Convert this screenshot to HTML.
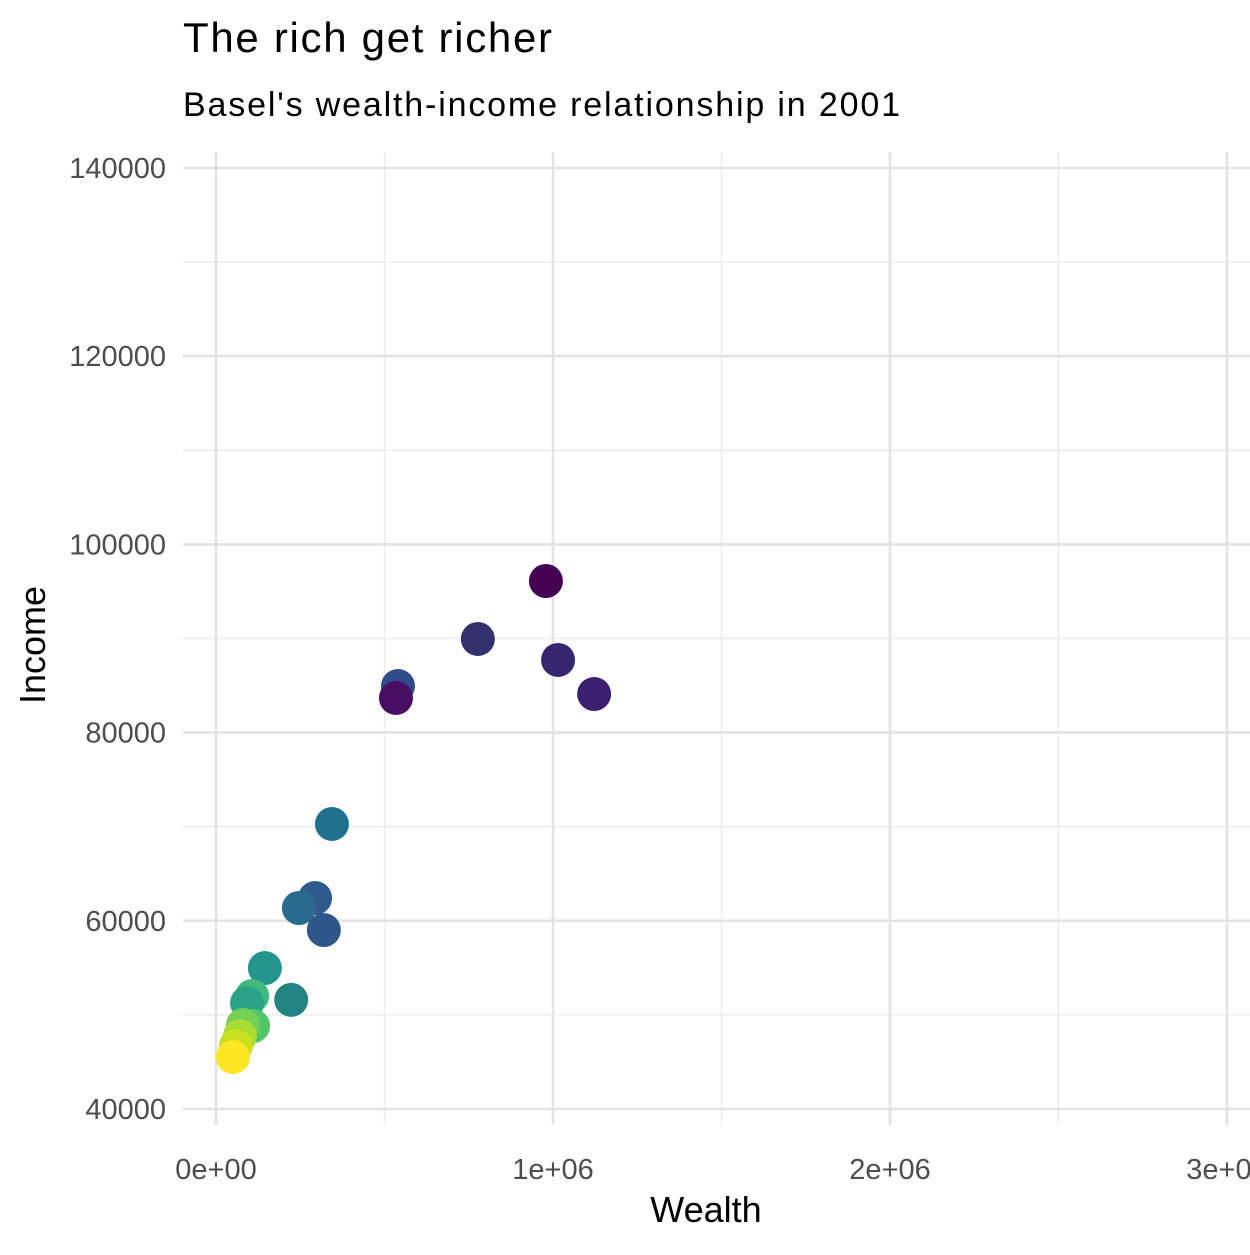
<!DOCTYPE html>
<html><head><meta charset="utf-8"><style>
body{margin:0;background:#fff;}
svg text{font-family:"Liberation Sans",Arial,sans-serif;}
</style></head><body>
<svg id="chart" width="1250" height="1250" xmlns="http://www.w3.org/2000/svg">
<rect width="1250" height="1250" fill="#fff"/>
<text x="183" y="52" font-size="42" textLength="369" fill="#000">The rich get richer</text>
<text x="183" y="116" font-size="34" textLength="717" fill="#000">Basel's wealth-income relationship in 2001</text>
<g id="grid"></g>
<g id="points"></g>
<g id="axes"></g>
<text x="706" y="1222" font-size="36" text-anchor="middle" fill="#000">Wealth</text>
<text transform="translate(45,645) rotate(-90)" font-size="36" text-anchor="middle" fill="#000">Income</text>
</svg>
<script>
const wealth=[979000,777000,1015000,1122000,540000,534000,344000,294000,246000,320000,145000,223000,107000,92000,110000,80000,71000,59000,50000];
const income=[96110,89950,87720,84100,84950,83680,70290,62420,61360,59020,54980,51600,52010,51270,48820,48930,47760,46700,45530];
const colors=["#440154","#33306e","#35266f","#3b2072","#2f4b8a","#470e61","#21718e","#2e5b8c","#2a6a8e","#2f568b","#23958b","#218482","#40b97a","#2aa486","#53c46a","#73d055","#a6dc33","#c8e020","#fde725"];
const xTicks=[0,1e6,2e6,3e6];
const xTickLabels=["0e+00","1e+06","2e+06","3e+06"];
const yTicks=[40000,60000,80000,100000,120000,140000];
const yTickLabels=["40000","60000","80000","100000","120000","140000"];
const NS="http://www.w3.org/2000/svg";
const X=v=>216+v*337/1e6;
const Y=v=>1109-(v-40000)*9.41/1000;
function mk(tag,attrs,parent){const e=document.createElementNS(NS,tag);for(const k in attrs)e.setAttribute(k,attrs[k]);document.getElementById(parent).appendChild(e);return e;}
for(let i=0;i<xTicks.length-1;i++){const m=(xTicks[i]+xTicks[i+1])/2;const l=mk('line',{x1:X(m),x2:X(m),y1:152,y2:1125,stroke:'#ebebeb','stroke-width':1.3},'grid');

}
for(let i=0;i<yTicks.length-1;i++){const m=(yTicks[i]+yTicks[i+1])/2;const l=mk('line',{x1:183,x2:1250,y1:Y(m),y2:Y(m),stroke:'#ebebeb','stroke-width':1.3},'grid');

}
xTicks.forEach((t,i)=>{const l=mk('line',{x1:X(t),x2:X(t),y1:152,y2:1125,stroke:'#e3e3e3','stroke-width':2.6},'grid');


const tx=mk('text',{x:X(t),y:1179,'font-size':29,'text-anchor':'middle',fill:'#4d4d4d'},'axes');tx.textContent=xTickLabels[i];

});
yTicks.forEach((t,i)=>{const l=mk('line',{x1:183,x2:1250,y1:Y(t),y2:Y(t),stroke:'#e3e3e3','stroke-width':2.6},'grid');


const tx=mk('text',{x:166,y:Y(t)+10,'font-size':29,'text-anchor':'end',fill:'#4d4d4d'},'axes');tx.textContent=yTickLabels[i];

});
wealth.forEach((w,i)=>{const c=mk('circle',{cx:X(w),cy:Y(income[i]),r:17,fill:colors[i]},'points');

});
</script>
</body></html>
